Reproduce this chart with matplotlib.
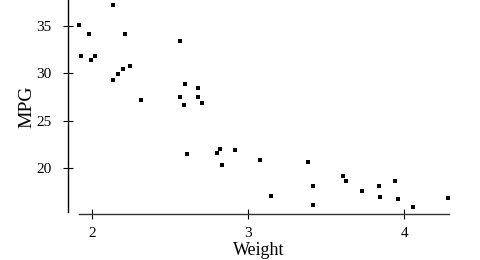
import matplotlib
matplotlib.use("Agg")
import matplotlib.pyplot as plt

# car weight (1000 lbs) vs fuel economy
weight = [1.916, 1.98, 1.93, 1.99, 2.02, 2.135, 2.21, 2.24, 2.195, 2.165, 2.135,
          2.31, 2.565, 2.565, 2.59, 2.595, 2.68, 2.68, 2.705, 2.605, 2.80, 2.82,
          2.835, 2.915, 3.077, 3.148, 3.385, 3.414, 3.414, 3.609, 3.624, 3.731,
          3.84, 3.847, 3.942, 3.962, 4.058, 4.282]
mpg = [35.1, 34.2, 31.8, 31.4, 31.8, 37.2, 34.2, 30.8, 30.5, 29.9, 29.3,
       27.2, 33.4, 27.5, 26.7, 28.9, 28.5, 27.5, 26.9, 21.5, 21.6, 22.0,
       20.3, 21.9, 20.9, 17.1, 20.6, 18.1, 16.1, 19.2, 18.7, 17.6,
       18.1, 17.0, 18.7, 16.7, 15.9, 16.9]

plt.rcParams["font.family"] = ["Liberation Serif", "DejaVu Serif"]

fig = plt.figure(figsize=(4.8, 2.6), dpi=100)
ax = fig.add_axes([0.141, 0.177, 0.794, 0.823])

ax.plot(weight, mpg, "s", color="black", markersize=2.4, markeredgewidth=0)

ax.set_xlim(1.842, 4.2865)
ax.set_ylim(15.17, 37.74)

for side in ["top", "right"]:
    ax.spines[side].set_visible(False)
ax.spines["left"].set_bounds(15.37, 37.74)
ax.spines["bottom"].set_bounds(1.916, 4.2865)
ax.spines["left"].set_linewidth(1.0)
ax.spines["bottom"].set_linewidth(1.0)
ax.spines["bottom"].set_color("#333333")

ax.set_xticks([2, 3, 4])
ax.set_yticks([20, 25, 30, 35])
ax.tick_params(direction="inout", length=7, width=0.8, labelsize=11,
               colors="black")
ax.tick_params(axis="y", pad=8)
ax.tick_params(axis="x", pad=6)

ax.set_xlabel("Weight", fontsize=13, labelpad=1)
ax.set_ylabel("MPG", fontsize=14, labelpad=1)

fig.savefig("out.png", dpi=100)
